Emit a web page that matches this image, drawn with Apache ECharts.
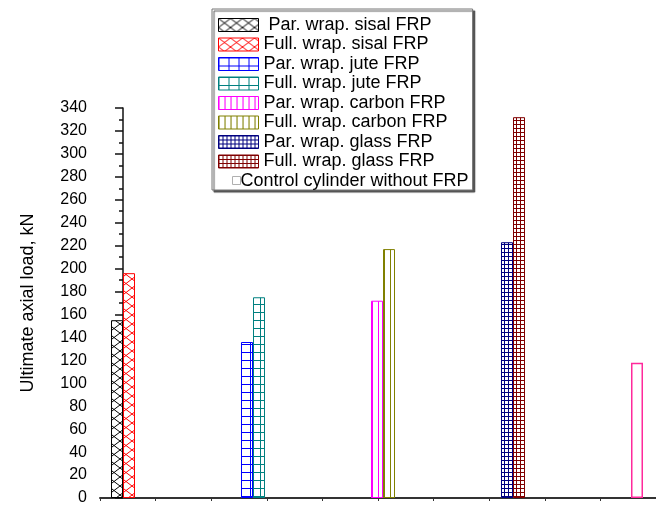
<!DOCTYPE html>
<html>
<head>
<meta charset="utf-8">
<script src="https://cdn.jsdelivr.net/npm/echarts@6/dist/echarts.min.js"></script>
<style>
html, body { margin: 0; padding: 0; background: #fff; }
#chart { width: 656px; height: 506px; }
</style>
</head>
<body>
<div id="chart"></div>
<script>
// one group per fibre, left bar = partial wrap, right bar = full wrap
const groups = ['sisal', 'jute', 'carbon', 'glass', 'control'];
const parNames = [' Par. wrap. sisal FRP', 'Par. wrap. jute FRP', 'Par. wrap. carbon FRP', 'Par. wrap. glass FRP'];
const fullNames = ['Full. wrap. sisal FRP', 'Full. wrap. jute FRP', 'Full. wrap. carbon FRP', 'Full. wrap. glass FRP'];
const parLoads = [155, 136, 172, 223];
const fullLoads = [196, 175, 217, 332];
const controlName = 'Control cylinder without FRP';
const controlLoad = 118;

const parColors = ['#000000', '#0000ff', '#ff00ff', '#000080'];
const fullColors = ['#ff0000', '#008080', '#808000', '#800000'];
const hatchKinds = ['cross', 'grid', 'vline', 'fine'];

// small repeating tile used as the bar fill
function hatch(color, kind) {
    const c = document.createElement('canvas');
    const size = { cross: [12, 9], grid: [10, 8], vline: [6, 6], fine: [4, 4] }[kind];
    c.width = size[0];
    c.height = size[1];
    const ctx = c.getContext('2d');
    ctx.fillStyle = '#ffffff';
    ctx.fillRect(0, 0, c.width, c.height);
    ctx.fillStyle = color;
    ctx.strokeStyle = color;
    if (kind === 'cross') {
        ctx.lineWidth = 1;
        ctx.beginPath();
        ctx.moveTo(0, 0); ctx.lineTo(c.width, c.height);
        ctx.moveTo(c.width, 0); ctx.lineTo(0, c.height);
        ctx.stroke();
    } else if (kind === 'vline') {
        ctx.fillRect(0, 0, 1, c.height);
    } else {
        ctx.fillRect(0, 0, 1, c.height);
        ctx.fillRect(0, 0, c.width, 1);
    }
    return { image: c, repeat: 'repeat' };
}

// value at its own group only, null elsewhere
function onlyAt(idx, v) {
    return groups.map((g, k) => [k, k === idx ? v : null]);
}

function barSeries(name, stack, data, fill, border) {
    return {
        name: name,
        type: 'bar',
        stack: stack,
        barWidth: 12,
        barGap: '0%',
        xAxisIndex: 0,
        data: data,
        itemStyle: { color: fill, borderColor: border, borderWidth: 1 },
        emphasis: { disabled: true }
    };
}

const series = [];
const legendData = [];
for (let i = 0; i < parLoads.length; i++) {
    series.push(barSeries(parNames[i], 'par', onlyAt(i, parLoads[i]), hatch(parColors[i], hatchKinds[i]), parColors[i]));
    series.push(barSeries(fullNames[i], 'full', onlyAt(i, fullLoads[i]), hatch(fullColors[i], hatchKinds[i]), fullColors[i]));
    legendData.push(parNames[i], fullNames[i]);
}
const ctrl = barSeries(controlName, 'par', onlyAt(groups.length - 1, controlLoad), '#ffffff', '#ff2a9c');
ctrl.itemStyle.borderWidth = 1.5;
series.push(ctrl);
legendData.push({
    name: controlName,
    icon: 'path://M0,0M40,13M14,2L22,2L22,10L14,10Z',
    itemStyle: { color: '#ffffff', borderColor: '#b0b0b0', borderWidth: 1 },
    textStyle: { padding: [0, 0, 0, -23] }
});

const chart = echarts.init(document.getElementById('chart'));
const font = 'Liberation Sans';
chart.setOption({
    animation: false,
    backgroundColor: '#ffffff',
    textStyle: { fontFamily: font },
    grid: { left: 100, right: 0, top: 108, bottom: 5 },
    legend: {
        data: legendData,
        orient: 'vertical',
        left: 212,
        top: 9,
        padding: [7, 4, 0, 6],
        itemWidth: 40,
        itemHeight: 13,
        itemGap: 1.5,
        icon: 'rect',
        backgroundColor: '#ffffff',
        borderColor: '#777777',
        borderWidth: 1,
        shadowColor: '#555555',
        shadowBlur: 1,
        shadowOffsetX: 2,
        shadowOffsetY: 2,
        itemStyle: { borderWidth: 1 },
        textStyle: { fontFamily: font, fontSize: 18, color: '#000000' }
    },
    xAxis: [{
        type: 'value',
        show: false,
        position: 'bottom',
        min: -0.177,
        max: 4.1
    }, {
        type: 'value',
        position: 'bottom',
        min: 0,
        max: 10,
        interval: 1,
        axisLine: { show: true, onZero: false, lineStyle: { color: '#333333', width: 2 } },
        axisTick: { show: true, length: 3, lineStyle: { color: '#333333' } },
        axisLabel: { show: false },
        splitLine: { show: false }
    }],
    yAxis: {
        type: 'value',
        min: 0,
        max: 340,
        interval: 20,
        name: 'Ultimate axial load, kN',
        nameLocation: 'middle',
        nameGap: 63,
        nameTextStyle: { fontFamily: font, fontSize: 18, color: '#000000' },
        axisLine: { show: true, lineStyle: { color: '#111111', width: 1.5 } },
        axisTick: { show: true, length: 8, lineStyle: { color: '#111111', width: 1.5 } },
        minorTick: { show: true, splitNumber: 2, length: 4, lineStyle: { color: '#111111', width: 1.5 } },
        axisLabel: { fontFamily: font, fontSize: 16, color: '#000000', margin: 13 },
        splitLine: { show: false }
    },
    series: series
});
</script>
</body>
</html>
